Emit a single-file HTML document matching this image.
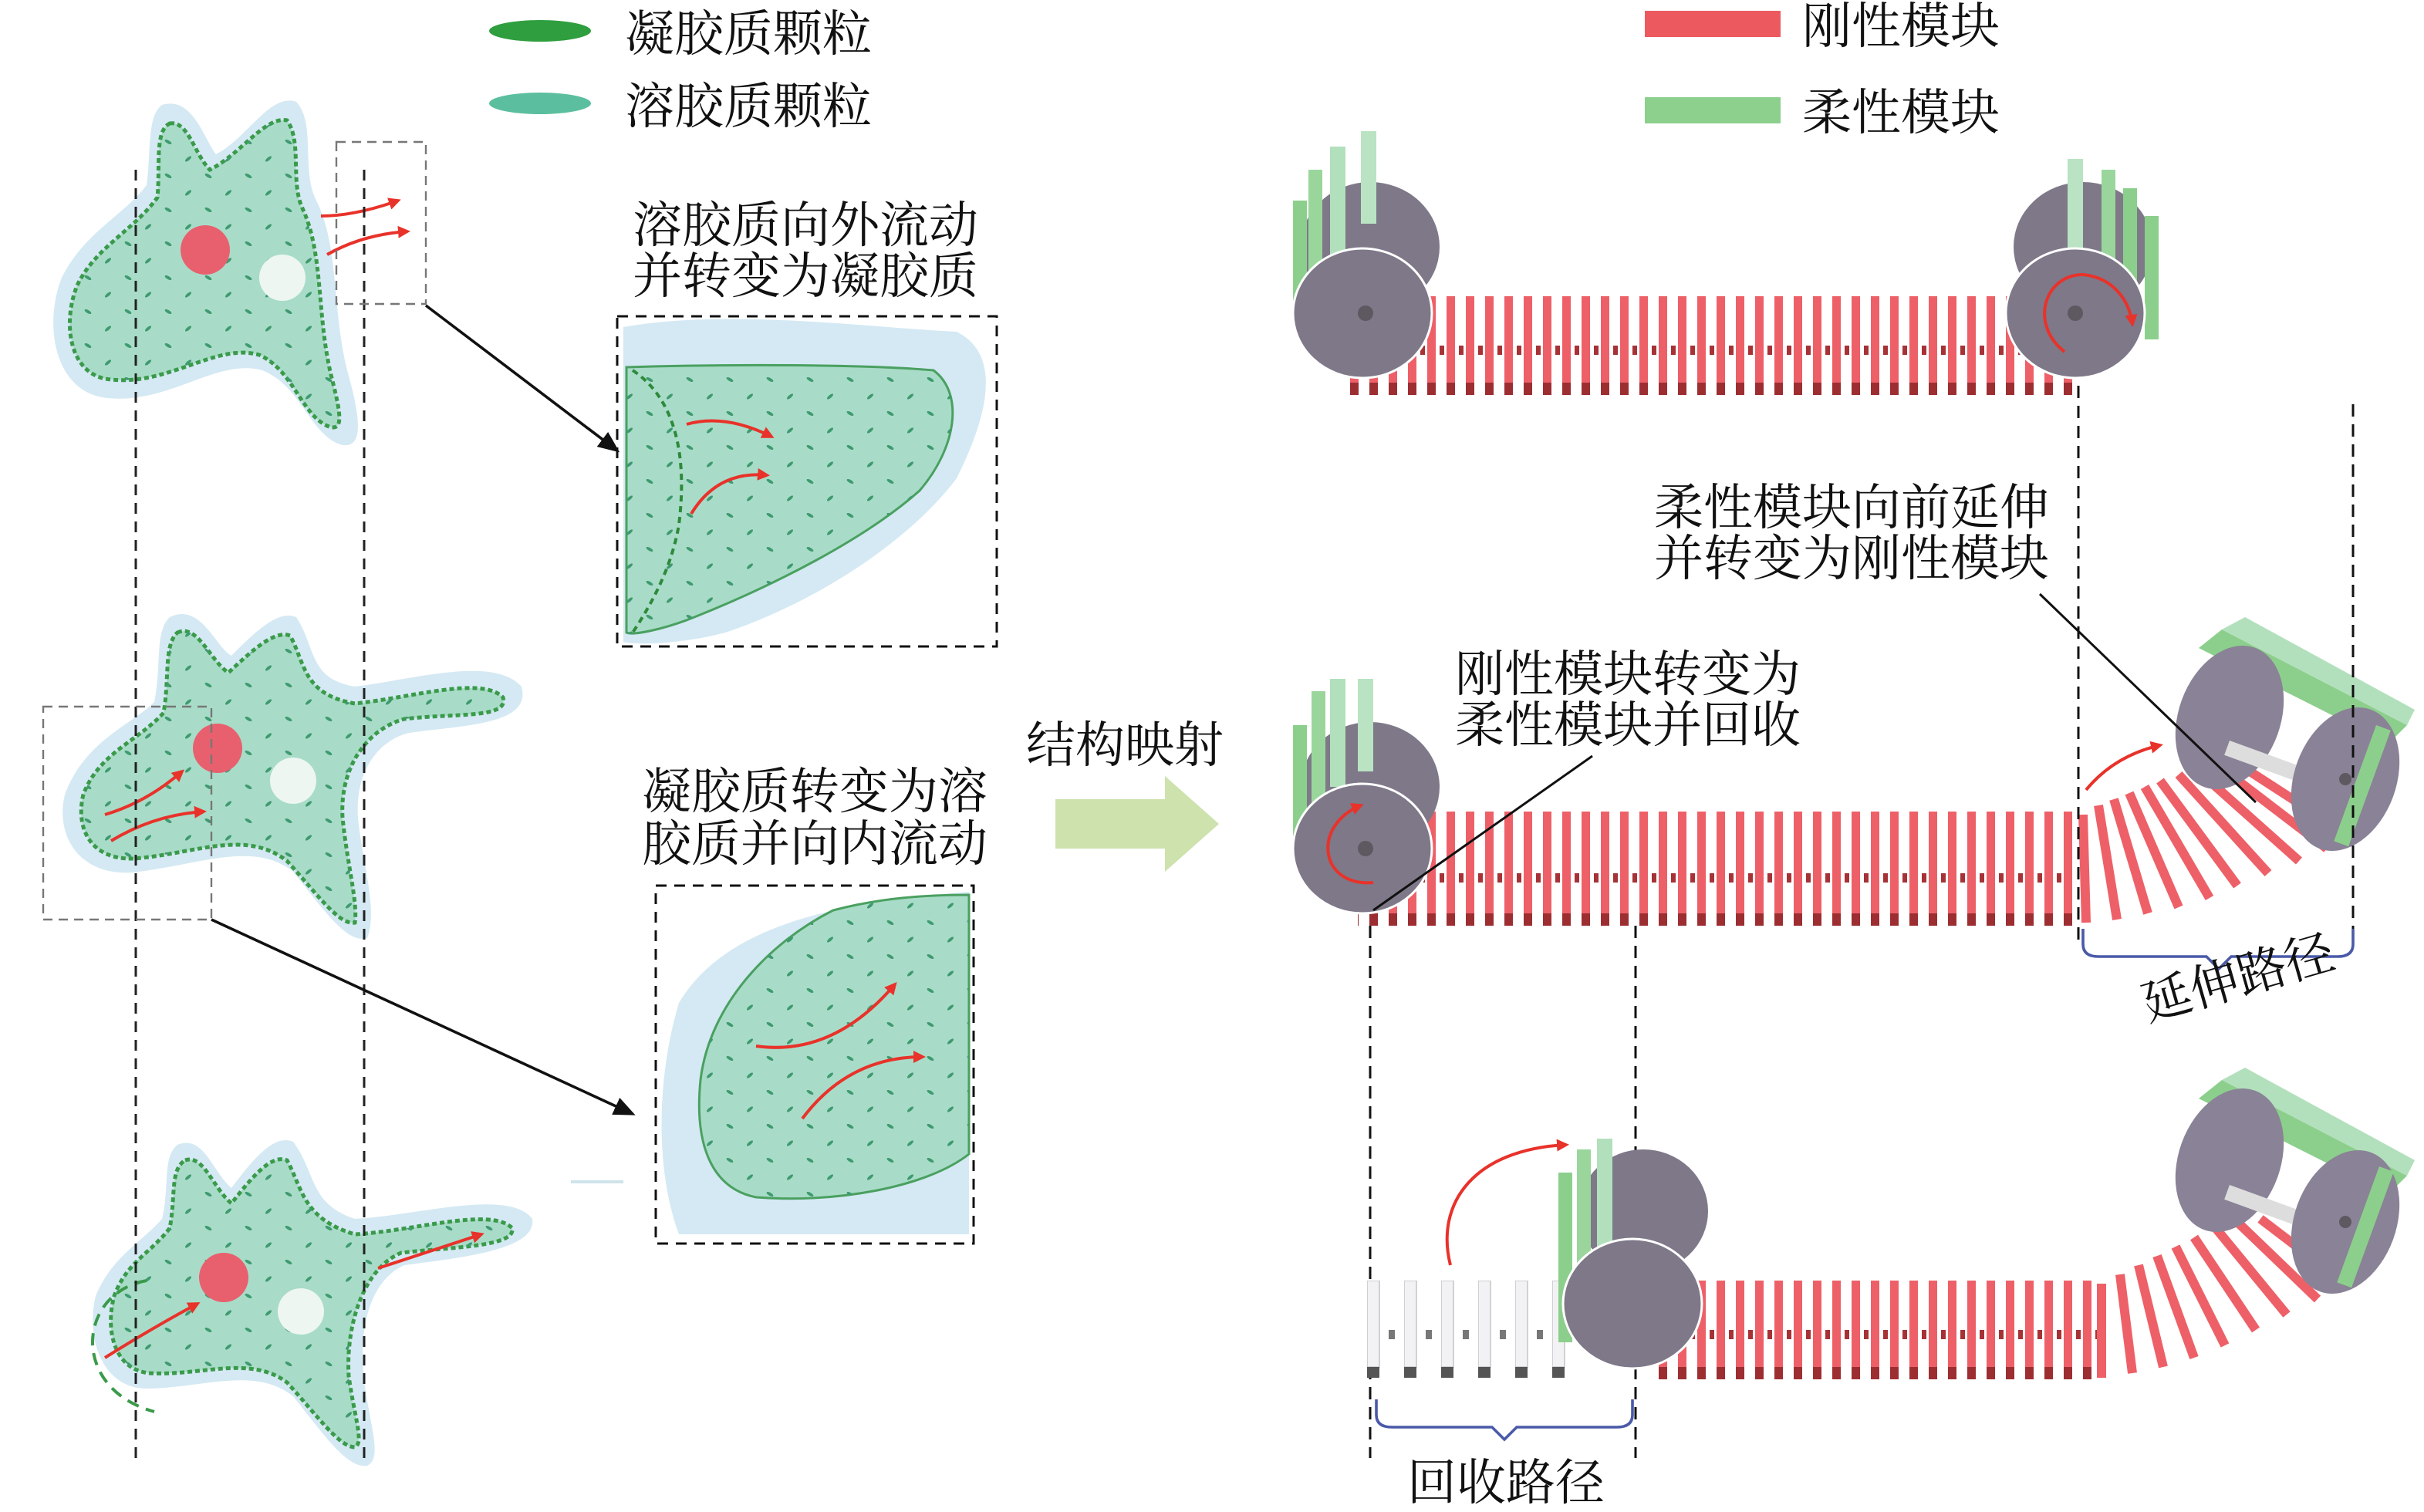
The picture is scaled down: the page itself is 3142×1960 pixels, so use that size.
<!DOCTYPE html>
<html><head><meta charset="utf-8"><style>
html,body{margin:0;padding:0;background:#fff;}
svg{display:block;}
text{font-family:"Liberation Serif","Noto Serif CJK SC",serif;fill:#111;}
</style></head><body>
<svg width="3142" height="1960" viewBox="0 0 1571 980" xmlns="http://www.w3.org/2000/svg">
<defs>
<pattern id="bars1" x="0" y="192" width="12.5" height="70" patternUnits="userSpaceOnUse">
<rect x="0" y="0" width="5.5" height="56" fill="#ee6068"/>
<rect x="0" y="56" width="5.5" height="8" fill="#9c2e32"/>
<rect x="8" y="32" width="3" height="6" fill="#a63236"/>
</pattern>
<pattern id="bars2" x="0" y="526" width="12.5" height="80" patternUnits="userSpaceOnUse">
<rect x="0" y="0" width="5.5" height="66" fill="#ee6068"/>
<rect x="0" y="66" width="5.5" height="8" fill="#9c2e32"/>
<rect x="8" y="40" width="3" height="6" fill="#a63236"/>
</pattern>
<pattern id="bars3" x="0" y="830" width="12.5" height="80" patternUnits="userSpaceOnUse">
<rect x="0" y="0" width="5.5" height="56" fill="#ee6068"/>
<rect x="0" y="56" width="5.5" height="8" fill="#9c2e32"/>
<rect x="8" y="32" width="3" height="6" fill="#a63236"/>
</pattern>
<pattern id="wbars" x="886" y="830" width="24" height="80" patternUnits="userSpaceOnUse">
<rect x="0" y="0" width="8" height="56" fill="#f2f2f4" stroke="#c8c8cc" stroke-width="0.8"/>
<rect x="0" y="56" width="8" height="7" fill="#555"/>
<rect x="14" y="32" width="4" height="6" fill="#777"/>
</pattern>
<pattern id="dots" width="26" height="22" patternUnits="userSpaceOnUse">
<ellipse cx="5" cy="4" rx="2.5" ry="1" fill="#3f9a70" transform="rotate(30 5 4)"/>
<ellipse cx="18" cy="15" rx="2.5" ry="1" fill="#3f9a70" transform="rotate(-40 18 15)"/>
</pattern>
<marker id="ra" markerWidth="8" markerHeight="8" refX="6" refY="4" orient="auto" markerUnits="userSpaceOnUse"><path d="M0,0 L8,4 L0,8 Z" fill="#e8322a"/></marker>
<marker id="ka" markerWidth="14" markerHeight="12" refX="12" refY="6" orient="auto" markerUnits="userSpaceOnUse"><path d="M0,0 L14,6 L0,12 Z" fill="#111"/></marker>
</defs>

<!-- legends -->
<ellipse cx="350" cy="20" rx="33" ry="7" fill="#2e9e3e"/>
<text x="405" y="33" font-size="32">凝胶质颗粒</text>
<ellipse cx="350" cy="67" rx="33" ry="7" fill="#5bbf9f"/>
<text x="405" y="80" font-size="32">溶胶质颗粒</text>
<rect x="1066" y="7" width="88" height="17" fill="#ec5a60"/>
<text x="1168" y="28" font-size="32">刚性模块</text>
<rect x="1066" y="63" width="88" height="17" fill="#8dcf8d"/>
<text x="1168" y="84" font-size="32">柔性模块</text>

<!-- amoeba 1 -->
<g>
<path d="M105,68 C125,62 132,90 140,100 C160,90 175,60 192,66 C205,80 195,110 205,130 C220,160 215,200 225,240 C235,275 235,292 220,288 C200,280 195,250 170,240 C140,232 110,262 70,258 C35,255 28,210 40,180 C55,150 80,140 95,120 C98,100 95,75 105,68 Z" fill="#d4e9f3"/>
<path d="M110,80 C122,78 126,100 136,110 C156,100 172,75 186,78 C196,92 188,118 196,135 C210,165 205,205 215,245 C222,272 222,280 212,276 C195,268 190,240 168,230 C140,222 110,250 72,246 C45,244 40,210 50,185 C62,160 86,150 102,128 C104,108 100,85 110,80 Z" fill="#a8dcc8" stroke="#3a9a4a" stroke-width="2.5" stroke-dasharray="3,2"/>
<path d="M110,80 C122,78 126,100 136,110 C156,100 172,75 186,78 C196,92 188,118 196,135 C210,165 205,205 215,245 C222,272 222,280 212,276 C195,268 190,240 168,230 C140,222 110,250 72,246 C45,244 40,210 50,185 C62,160 86,150 102,128 C104,108 100,85 110,80 Z" fill="url(#dots)"/>
<circle cx="133" cy="162" r="16" fill="#e8606e"/>
<circle cx="183" cy="180" r="15" fill="#eef6f2"/>
<path d="M208,140 Q230,140 258,130" stroke="#e8322a" stroke-width="2" fill="none" marker-end="url(#ra)"/>
<path d="M212,165 Q235,152 264,150" stroke="#e8322a" stroke-width="2" fill="none" marker-end="url(#ra)"/>
</g>
<!-- amoeba 2 -->
<g>
<path d="M110,400 C130,390 140,420 150,425 C165,410 180,395 192,400 C205,420 200,440 230,445 C270,440 320,425 338,445 C345,470 300,470 265,475 C245,480 230,500 232,530 C235,560 245,590 238,608 C225,612 210,590 190,565 C165,545 130,560 90,565 C55,570 35,545 42,515 C55,480 85,470 100,455 C105,430 100,410 110,400 Z" fill="#d4e9f3"/>
<path d="M115,410 C128,404 136,428 148,436 C163,422 178,408 188,412 C198,430 196,450 230,456 C268,452 312,438 326,452 C330,466 296,462 262,466 C240,472 220,495 222,530 C225,560 232,585 230,598 C220,600 206,580 186,558 C160,538 130,552 92,556 C62,560 48,540 54,515 C64,488 90,480 106,462 C110,440 106,418 115,410 Z" fill="#a8dcc8" stroke="#3a9a4a" stroke-width="2.5" stroke-dasharray="3,2"/>
<path d="M115,410 C128,404 136,428 148,436 C163,422 178,408 188,412 C198,430 196,450 230,456 C268,452 312,438 326,452 C330,466 296,462 262,466 C240,472 220,495 222,530 C225,560 232,585 230,598 C220,600 206,580 186,558 C160,538 130,552 92,556 C62,560 48,540 54,515 C64,488 90,480 106,462 C110,440 106,418 115,410 Z" fill="url(#dots)"/>
<circle cx="141" cy="485" r="16" fill="#e8606e"/>
<circle cx="190" cy="506" r="15" fill="#eef6f2"/>
<path d="M68,528 Q95,520 118,500" stroke="#e8322a" stroke-width="2" fill="none" marker-end="url(#ra)"/>
<path d="M72,545 Q100,528 132,526" stroke="#e8322a" stroke-width="2" fill="none" marker-end="url(#ra)"/>
</g>
<!-- amoeba 3 -->
<g>
<path d="M115,742 C132,735 138,760 150,770 C165,750 178,735 190,740 C205,760 200,780 230,790 C270,788 330,770 345,790 C348,810 300,815 262,820 C240,830 232,860 236,895 C240,925 248,945 238,950 C225,952 210,930 190,905 C165,885 130,900 95,900 C68,900 55,870 62,840 C72,815 92,805 105,790 C110,770 105,750 115,742 Z" fill="#d4e9f3"/>
<path d="M120,752 C132,748 138,770 150,780 C164,762 176,748 186,752 C196,770 196,790 230,800 C268,798 318,782 332,796 C334,808 296,808 260,812 C236,822 224,858 226,892 C230,920 236,935 230,938 C220,938 206,918 186,896 C162,878 130,892 97,890 C74,888 68,862 74,840 C82,818 98,812 110,796 C114,776 110,758 120,752 Z" fill="#a8dcc8" stroke="#3a9a4a" stroke-width="2.5" stroke-dasharray="3,2"/>
<path d="M120,752 C132,748 138,770 150,780 C164,762 176,748 186,752 C196,770 196,790 230,800 C268,798 318,782 332,796 C334,808 296,808 260,812 C236,822 224,858 226,892 C230,920 236,935 230,938 C220,938 206,918 186,896 C162,878 130,892 97,890 C74,888 68,862 74,840 C82,818 98,812 110,796 C114,776 110,758 120,752 Z" fill="url(#dots)"/>
<circle cx="145" cy="828" r="16" fill="#e8606e"/>
<circle cx="195" cy="850" r="15" fill="#eef6f2"/>
<path d="M68,880 Q100,860 128,845" stroke="#e8322a" stroke-width="2" fill="none" marker-end="url(#ra)"/>
<path d="M245,822 Q275,812 312,800" stroke="#e8322a" stroke-width="2" fill="none" marker-end="url(#ra)"/>
<path d="M95,830 C50,838 45,900 100,915" stroke="#3a9a4a" stroke-width="2" fill="none" stroke-dasharray="8,5"/>
</g>

<!-- dashed guide lines left -->
<g stroke="#222" stroke-width="1.5" stroke-dasharray="7,5" fill="none">
<line x1="88" y1="110" x2="88" y2="945"/>
<line x1="236" y1="110" x2="236" y2="945"/>
</g>
<g stroke="#777" stroke-width="1.2" stroke-dasharray="6,4" fill="none">
<rect x="218" y="92" width="58" height="105"/>
<rect x="28" y="458" width="109" height="138"/>
</g>
<line x1="276" y1="198" x2="400" y2="292" stroke="#111" stroke-width="1.8" marker-end="url(#ka)"/>
<line x1="137" y1="596" x2="410" y2="722" stroke="#111" stroke-width="1.8" marker-end="url(#ka)"/>
<line x1="370" y1="766" x2="404" y2="766" stroke="#cfe3ea" stroke-width="2"/>

<!-- detail box 1 -->
<text x="410" y="157" font-size="32">溶胶质向外流动</text>
<text x="410" y="190" font-size="32">并转变为凝胶质</text>
<path d="M404,212 C470,200 560,212 620,215 C650,230 640,270 620,310 C590,350 530,390 470,410 C440,418 410,418 404,416 Z" fill="#d4e9f3"/>
<path d="M406,238 C470,236 560,236 605,240 C625,255 620,290 596,318 C560,350 500,380 450,400 C430,408 410,412 406,410 Z" fill="#a8dcc8" stroke="#4aa060" stroke-width="1.5"/>
<path d="M406,238 C470,236 560,236 605,240 C625,255 620,290 596,318 C560,350 500,380 450,400 C430,408 410,412 406,410 Z" fill="url(#dots)"/>
<path d="M410,240 C440,260 445,300 440,340 C435,370 420,395 410,410" stroke="#2e8a3a" stroke-width="2" fill="none" stroke-dasharray="4,3"/>
<path d="M445,275 Q470,268 500,283" stroke="#e8322a" stroke-width="2" fill="none" marker-end="url(#ra)"/>
<path d="M448,333 Q465,305 497,308" stroke="#e8322a" stroke-width="2" fill="none" marker-end="url(#ra)"/>
<rect x="400" y="205" width="246" height="214" fill="none" stroke="#111" stroke-width="1.5" stroke-dasharray="7,5"/>

<!-- detail box 2 -->
<text x="416" y="524" font-size="32">凝胶质转变为溶</text>
<text x="416" y="558" font-size="32">胶质并向内流动</text>
<path d="M628,578 L628,800 L440,800 C425,760 425,700 440,650 C470,600 540,585 628,578 Z" fill="#d4e9f3"/>
<path d="M628,580 L628,748 C600,770 540,780 490,776 C460,770 450,740 454,700 C460,650 500,610 540,590 C570,582 600,580 628,580 Z" fill="#a8dcc8" stroke="#4aa060" stroke-width="1.5"/>
<path d="M628,580 L628,748 C600,770 540,780 490,776 C460,770 450,740 454,700 C460,650 500,610 540,590 C570,582 600,580 628,580 Z" fill="url(#dots)"/>
<path d="M490,678 Q540,685 580,638" stroke="#e8322a" stroke-width="2" fill="none" marker-end="url(#ra)"/>
<path d="M520,725 Q550,685 598,685" stroke="#e8322a" stroke-width="2" fill="none" marker-end="url(#ra)"/>
<rect x="425" y="574" width="206" height="232" fill="none" stroke="#111" stroke-width="1.5" stroke-dasharray="7,5"/>

<!-- mapping arrow -->
<text x="665" y="494" font-size="32">结构映射</text>
<path d="M684,518 L755,518 L755,503 L790,534 L755,565 L755,550 L684,550 Z" fill="#cde2ad"/>

<!-- ===== machine 1 (top) ===== -->
<rect x="875" y="192" width="470" height="66" fill="url(#bars1)"/>
<g>
<ellipse cx="888" cy="160" rx="45" ry="42" fill="#7e7888"/>
<rect x="838" y="130" width="9" height="80" fill="#8ccf8c"/>
<rect x="848" y="110" width="9" height="80" fill="#9ad69c"/>
<rect x="862" y="95" width="10" height="70" fill="#b2e0bc"/>
<rect x="882" y="85" width="10" height="60" fill="#b9e3c2"/>
<ellipse cx="883" cy="203" rx="45" ry="42" fill="#7e7888" stroke="#fff" stroke-width="1.5"/>
<circle cx="885" cy="203" r="5" fill="#5e5860"/>
</g>
<g>
<ellipse cx="1350" cy="160" rx="45" ry="42" fill="#7e7888"/>
<rect x="1340" y="103" width="10" height="60" fill="#b9e3c2"/>
<rect x="1362" y="110" width="9" height="80" fill="#9ad69c"/>
<rect x="1376" y="122" width="9" height="90" fill="#8ccf8c"/>
<rect x="1390" y="140" width="9" height="80" fill="#8ccf8c"/>
<ellipse cx="1345" cy="203" rx="45" ry="42" fill="#7e7888" stroke="#fff" stroke-width="1.5"/>
<circle cx="1345" cy="203" r="5" fill="#5e5860"/>
<path d="M1338,228 C1315,210 1325,178 1350,178 C1370,180 1380,195 1382,210" stroke="#e8322a" stroke-width="2" fill="none" marker-end="url(#ra)"/>
</g>

<!-- ===== machine 2 (middle) ===== -->
<rect x="880" y="526" width="465" height="76" fill="url(#bars2)"/>
<g stroke-linecap="butt">
<line x1="1350" y1="528" x2="1352" y2="598" stroke="#ee6068" stroke-width="6"/>
<line x1="1360" y1="522" x2="1372" y2="596" stroke="#ee6068" stroke-width="6"/>
<line x1="1370" y1="518" x2="1392" y2="592" stroke="#ee6068" stroke-width="6"/>
<line x1="1380" y1="514" x2="1412" y2="588" stroke="#ee6068" stroke-width="6"/>
<line x1="1390" y1="510" x2="1432" y2="582" stroke="#ee6068" stroke-width="6"/>
<line x1="1400" y1="506" x2="1450" y2="574" stroke="#ee6068" stroke-width="6"/>
<line x1="1412" y1="502" x2="1470" y2="566" stroke="#ee6068" stroke-width="6"/>
<line x1="1425" y1="500" x2="1490" y2="558" stroke="#ee6068" stroke-width="6"/>
<line x1="1440" y1="498" x2="1508" y2="550" stroke="#ee6068" stroke-width="6"/>
<line x1="1455" y1="498" x2="1526" y2="544" stroke="#ee6068" stroke-width="6"/>
</g>
<g>
<polygon points="1425,420 1440,408 1560,470 1548,482" fill="#8ccf8c"/>
<polygon points="1440,408 1455,400 1565,460 1560,470" fill="#b2e0bc"/>
<ellipse cx="1445" cy="465" rx="33" ry="48" fill="#8a8296" transform="rotate(20 1445 465)"/>
<rect x="1445" y="480" width="80" height="10" fill="#ddd" transform="rotate(20 1445 480)"/>
<ellipse cx="1520" cy="505" rx="33" ry="48" fill="#8a8296" transform="rotate(20 1520 505)"/>
<rect x="1540" y="470" width="10" height="80" fill="#8ccf8c" transform="rotate(20 1540 470)"/>
<circle cx="1520" cy="505" r="4" fill="#5e5860"/>
</g>
<path d="M1352,512 Q1370,490 1400,483" stroke="#e8322a" stroke-width="2" fill="none" marker-end="url(#ra)"/>
<g>
<ellipse cx="888" cy="510" rx="45" ry="42" fill="#7e7888"/>
<rect x="838" y="470" width="9" height="80" fill="#8ccf8c"/>
<rect x="850" y="448" width="9" height="80" fill="#9ad69c"/>
<rect x="862" y="440" width="10" height="70" fill="#b2e0bc"/>
<rect x="880" y="440" width="10" height="60" fill="#b9e3c2"/>
<ellipse cx="883" cy="550" rx="45" ry="42" fill="#7e7888" stroke="#fff" stroke-width="1.5"/>
<circle cx="885" cy="550" r="5" fill="#5e5860"/>
<path d="M890,572 C855,575 850,535 882,522" stroke="#e8322a" stroke-width="2" fill="none" marker-end="url(#ra)"/>
</g>
<text x="1072" y="340" font-size="32">柔性模块向前延伸</text>
<text x="1072" y="373" font-size="32">并转变为刚性模块</text>
<line x1="1322" y1="385" x2="1462" y2="520" stroke="#111" stroke-width="1.5"/>
<text x="943" y="448" font-size="32">刚性模块转变为</text>
<text x="943" y="481" font-size="32">柔性模块并回收</text>
<line x1="1032" y1="490" x2="890" y2="590" stroke="#111" stroke-width="1.5"/>

<!-- dashed guides right -->
<g stroke="#111" stroke-width="1.5" stroke-dasharray="8,5" fill="none">
<line x1="1347" y1="250" x2="1347" y2="610"/>
<line x1="1525" y1="262" x2="1525" y2="610"/>
<line x1="888" y1="600" x2="888" y2="945"/>
<line x1="1060" y1="600" x2="1060" y2="945"/>
</g>
<path d="M1350,602 L1350,612 Q1350,620 1360,620 L1430,620 L1438,628 L1446,620 L1515,620 Q1525,620 1525,612 L1525,602" stroke="#4a5aa8" stroke-width="1.8" fill="none"/>
<text x="1392" y="662" font-size="32" transform="rotate(-16 1392 662)">延伸路径</text>
<path d="M892,907 L892,917 Q892,925 902,925 L967,925 L975,933 L983,925 L1048,925 Q1058,925 1058,917 L1058,907" stroke="#4a5aa8" stroke-width="1.8" fill="none"/>
<text x="912" y="972" font-size="32">回收路径</text>

<!-- ===== machine 3 (bottom) ===== -->
<rect x="886" y="830" width="130" height="66" fill="url(#wbars)"/>
<rect x="1075" y="830" width="285" height="66" fill="url(#bars3)"/>
<g stroke-linecap="butt">
<line x1="1362" y1="832" x2="1362" y2="893" stroke="#ee6068" stroke-width="6"/>
<line x1="1374" y1="826" x2="1382" y2="890" stroke="#ee6068" stroke-width="6"/>
<line x1="1386" y1="820" x2="1402" y2="886" stroke="#ee6068" stroke-width="6"/>
<line x1="1398" y1="814" x2="1422" y2="880" stroke="#ee6068" stroke-width="6"/>
<line x1="1410" y1="808" x2="1442" y2="872" stroke="#ee6068" stroke-width="6"/>
<line x1="1422" y1="802" x2="1462" y2="862" stroke="#ee6068" stroke-width="6"/>
<line x1="1436" y1="796" x2="1482" y2="852" stroke="#ee6068" stroke-width="6"/>
<line x1="1450" y1="792" x2="1502" y2="842" stroke="#ee6068" stroke-width="6"/>
<line x1="1465" y1="790" x2="1520" y2="832" stroke="#ee6068" stroke-width="6"/>
</g>
<g>
<polygon points="1425,712 1440,700 1560,762 1548,774" fill="#8ccf8c"/>
<polygon points="1440,700 1455,692 1565,752 1560,762" fill="#b2e0bc"/>
<ellipse cx="1445" cy="752" rx="33" ry="48" fill="#8a8296" transform="rotate(20 1445 752)"/>
<rect x="1445" y="768" width="80" height="10" fill="#ddd" transform="rotate(20 1445 768)"/>
<ellipse cx="1520" cy="792" rx="33" ry="48" fill="#8a8296" transform="rotate(20 1520 792)"/>
<rect x="1542" y="756" width="10" height="80" fill="#8ccf8c" transform="rotate(20 1542 756)"/>
<circle cx="1520" cy="792" r="4" fill="#5e5860"/>
</g>
<g>
<ellipse cx="1065" cy="785" rx="42" ry="40" fill="#7e7888"/>
<rect x="1010" y="760" width="9" height="110" fill="#8ccf8c"/>
<rect x="1022" y="745" width="9" height="100" fill="#9ad69c"/>
<rect x="1035" y="738" width="10" height="90" fill="#b2e0bc"/>
<ellipse cx="1058" cy="845" rx="45" ry="42" fill="#7e7888" stroke="#fff" stroke-width="1.5"/>
</g>
<path d="M940,820 C930,780 955,745 1015,742" stroke="#e8322a" stroke-width="2" fill="none" marker-end="url(#ra)"/>
</svg>
</body></html>
